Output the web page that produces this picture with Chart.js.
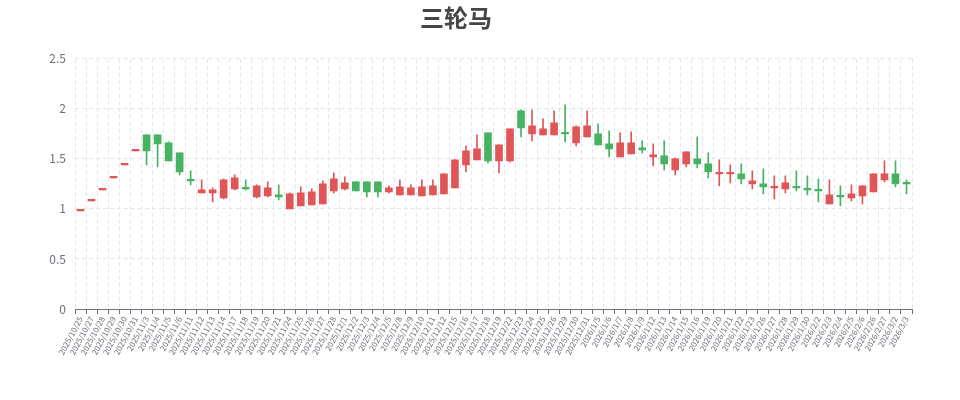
<!DOCTYPE html>
<html>
<head>
<meta charset="utf-8">
<title>三轮马</title>
<script src="https://cdn.jsdelivr.net/npm/chart.js@4/dist/chart.umd.min.js"></script>
<style>
  html, body { margin: 0; padding: 0; background: #fff; }
  #wrap { width: 960px; height: 400px; }
</style>
</head>
<body>
<div id="wrap"><canvas id="grafico-velas" width="960" height="400"></canvas></div>
<script>
/* ── DATOS ─────────────────────────────────────────────── */
const fechas = [
  '2025/10/25','2025/10/27','2025/10/28','2025/10/29','2025/10/30','2025/10/31',
  '2025/11/3','2025/11/4','2025/11/5','2025/11/6','2025/11/11','2025/11/12','2025/11/13',
  '2025/11/14','2025/11/17','2025/11/18','2025/11/19','2025/11/20','2025/11/21','2025/11/24',
  '2025/11/25','2025/11/26','2025/11/27','2025/11/28','2025/12/1','2025/12/2','2025/12/3',
  '2025/12/4','2025/12/5','2025/12/8','2025/12/9','2025/12/10','2025/12/11','2025/12/12',
  '2025/12/15','2025/12/16','2025/12/17','2025/12/18','2025/12/19','2025/12/22','2025/12/23',
  '2025/12/24','2025/12/25','2025/12/26','2025/12/29','2025/12/30','2025/12/31','2026/1/5',
  '2026/1/6','2026/1/7','2026/1/8','2026/1/9','2026/1/12','2026/1/13','2026/1/14','2026/1/15',
  '2026/1/16','2026/1/19','2026/1/20','2026/1/21','2026/1/22','2026/1/23','2026/1/26',
  '2026/1/27','2026/1/28','2026/1/29','2026/1/30','2026/2/2','2026/2/3','2026/2/4','2026/2/5',
  '2026/2/6','2026/2/26','2026/2/27','2026/3/2','2026/3/3'
];

const apertura = [
  0.98,1.08,1.19,1.31,1.44,1.58, 1.74,1.74,1.66,1.56,1.29,1.16,1.16,
  1.11,1.20,1.21,1.12,1.13,1.14,1.00, 1.03,1.04,1.05,1.18,1.20,1.27,1.27,
  1.27,1.17,1.14,1.14,1.13,1.14,1.15, 1.21,1.44,1.49,1.76,1.48,1.48,1.98,
  1.75,1.74,1.74,1.76,1.66,1.72,1.75, 1.65,1.52,1.55,1.61,1.52,1.53,1.39,1.45,
  1.50,1.45,1.35,1.35,1.35,1.25,1.25, 1.21,1.20,1.22,1.20,1.19,1.05,1.13,1.11,
  1.13,1.17,1.29,1.35,1.26
];

const cierre = [
  0.98,1.08,1.19,1.31,1.44,1.58, 1.58,1.65,1.48,1.37,1.28,1.19,1.19,
  1.29,1.31,1.20,1.23,1.21,1.12,1.15, 1.16,1.17,1.25,1.30,1.26,1.18,1.17,
  1.17,1.21,1.22,1.21,1.22,1.23,1.35, 1.49,1.58,1.60,1.48,1.64,1.80,1.81,
  1.83,1.80,1.86,1.75,1.82,1.83,1.64, 1.60,1.66,1.66,1.59,1.54,1.45,1.50,1.57,
  1.45,1.37,1.36,1.36,1.30,1.28,1.22, 1.22,1.26,1.21,1.19,1.18,1.14,1.12,1.15,
  1.23,1.35,1.35,1.25,1.25
];

const minimo = [
  0.98,1.08,1.19,1.31,1.44,1.58, 1.44,1.42,1.48,1.34,1.24,1.16,1.07,
  1.10,1.19,1.19,1.11,1.12,1.09,1.00, 1.03,1.04,1.05,1.16,1.19,1.18,1.12,
  1.12,1.16,1.14,1.14,1.13,1.14,1.15, 1.21,1.37,1.49,1.46,1.36,1.47,1.72,
  1.68,1.74,1.74,1.67,1.63,1.72,1.64, 1.52,1.52,1.55,1.56,1.43,1.39,1.34,1.42,
  1.41,1.31,1.23,1.26,1.25,1.20,1.15, 1.10,1.16,1.18,1.14,1.07,1.05,1.03,1.08,
  1.05,1.17,1.27,1.22,1.15
];

const maximo = [
  0.98,1.08,1.19,1.31,1.44,1.58, 1.74,1.74,1.67,1.56,1.38,1.29,1.21,
  1.30,1.34,1.29,1.24,1.27,1.24,1.16, 1.22,1.20,1.28,1.36,1.32,1.27,1.27,
  1.27,1.23,1.29,1.24,1.29,1.29,1.35, 1.49,1.63,1.74,1.76,1.64,1.80,1.99,
  1.99,1.90,1.98,2.04,1.83,1.98,1.85, 1.78,1.76,1.77,1.68,1.65,1.68,1.51,1.57,
  1.72,1.56,1.49,1.44,1.45,1.38,1.40, 1.33,1.33,1.38,1.33,1.30,1.29,1.23,1.24,
  1.23,1.35,1.48,1.48,1.29
];

const ticksY = [0, 0.5, 1, 1.5, 2, 2.5];

/* ── COLORES ───────────────────────────────────────────── */
const ROJO  = '#e05656';
const VERDE = '#47b262';
const GRIS  = '#6E7079';
const REJILLA = '#E0E6F1';
const FUENTE = '"Noto Sans CJK SC", "Noto Sans", sans-serif';

const colores = cierre.map((c, i) => c >= apertura[i] ? ROJO : VERDE);

const cuerpos = apertura.map((o, i) => [o, cierre[i]]);
const mechas  = minimo.map((l, i) => [l, maximo[i]]);

/* ── GRÁFICO ───────────────────────────────────────────── */
const ctx = document.getElementById('grafico-velas').getContext('2d');

new Chart(ctx, {
  type: 'bar',
  data: {
    labels: fechas,
    datasets: [
      {
        label: '实体',
        data: cuerpos,
        backgroundColor: colores,
        borderColor: colores,
        borderWidth: 0,
        barThickness: 7,
        minBarLength: 1.5,
        grouped: false,
        order: 0,
      },
      {
        label: '影线',
        data: mechas,
        backgroundColor: colores,
        borderWidth: 0,
        barThickness: 1,
        minBarLength: 1,
        grouped: false,
        order: 1,
      }
    ]
  },
  options: {
    responsive: false,
    animation: false,
    layout: { padding: { left: 0, right: 48, top: 0, bottom: 0 } },
    plugins: {
      legend: { display: false },
      tooltip: { enabled: false },
      title: {
        display: true,
        text: '三轮马',
        color: '#464646',
        font: { family: FUENTE, size: 24, weight: 'bold' },
        padding: { top: 3, bottom: 27 },
      },
    },
    scales: {
      x: {
        offset: true,
        grid: {
          display: true,
          offset: true,
          color: REJILLA,
          drawTicks: true,
          tickLength: 5,
          tickColor: GRIS,
        },
        border: { display: true, color: GRIS, width: 1, dash: [4, 3] },
        ticks: {
          autoSkip: false,
          maxRotation: 62,
          minRotation: 62,
          color: GRIS,
          padding: 1,
          font: { family: FUENTE, size: 8 },
        },
        afterFit: (scale) => { scale.height = 91; },
      },
      y: {
        min: 0,
        max: 2.5,
        afterBuildTicks: (scale) => { scale.ticks = ticksY.map(v => ({ value: v })); },
        grid: { color: REJILLA, drawTicks: false },
        border: { display: false, dash: [4, 3] },
        ticks: {
          color: GRIS,
          padding: 9,
          font: { family: FUENTE, size: 12 },
          callback: (v) => String(v),
        },
        afterFit: (scale) => { scale.width = 75; },
      }
    }
  }
});
</script>
</body>
</html>
